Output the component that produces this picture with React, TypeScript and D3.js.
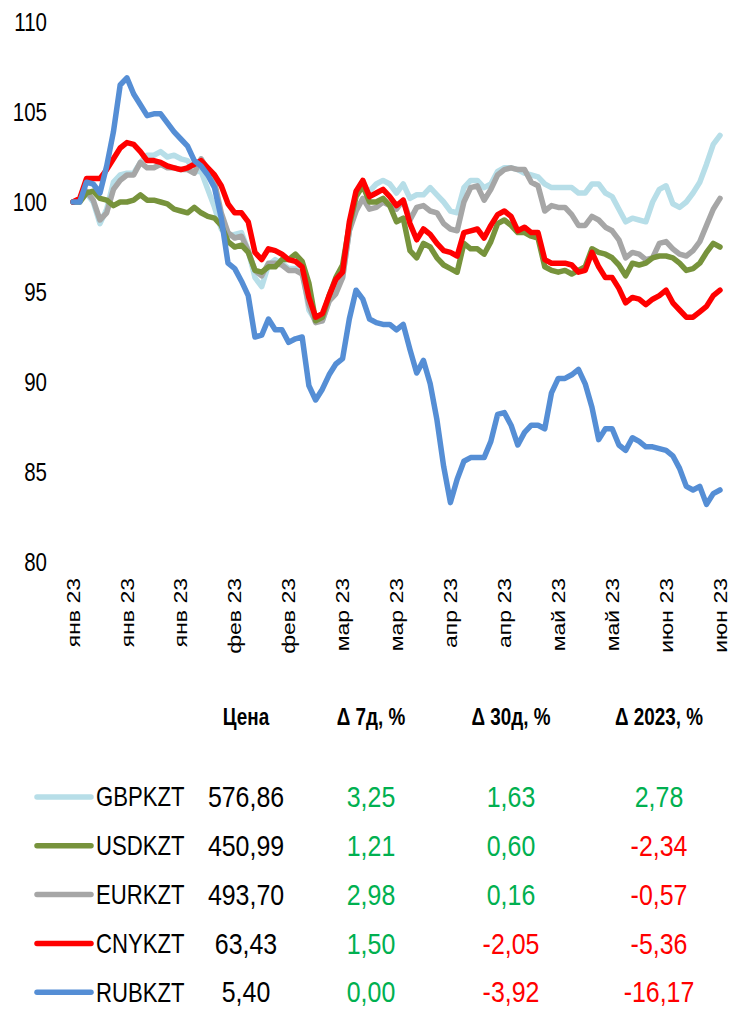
import React from 'react';
import * as d3 from 'd3';

// x-axis labels (every 8th point)
const tickLabels = ['янв 23', 'янв 23', 'янв 23', 'фев 23', 'фев 23', 'мар 23', 'мар 23', 'апр 23', 'апр 23', 'май 23', 'май 23', 'июн 23', 'июн 23'];
const yTicks = [80, 85, 90, 95, 100, 105, 110];

const gbp = [
  100, 100.1, 100.5, 100.0, 98.8, 99.6, 101.1, 101.5,
  101.6, 101.6, 102.2, 102.6, 102.6, 102.8, 102.5, 102.6,
  102.4, 102.3, 101.7, 101.7, 100.7, 99.7, 98.5, 98.1,
  98.2, 98.3, 97.3, 95.8, 95.3, 96.5, 96.8, 96.6,
  96.3, 96.3, 96.3, 94.0, 93.4, 93.4, 94.5, 95.3,
  95.8, 98.4, 100.4, 100.9, 100.6, 101.0, 101.2, 101.0,
  100.5, 101.0, 100.2, 100.4, 100.4, 100.8, 100.4, 100.0,
  99.5, 99.4, 100.8, 101.2, 101.2, 100.8, 101.0, 101.7,
  101.9, 101.9, 101.8, 101.6, 101.5, 101.4, 101.0, 100.8,
  100.8, 100.8, 100.8, 100.5, 100.5, 101.0, 101.0, 100.5,
  100.3, 99.6, 98.9, 99.1, 99.0, 98.9, 100.0, 100.7,
  100.9, 99.9, 99.7, 100.0, 100.5, 101.1, 102.1, 103.2,
  103.7,
];
const eur = [
  100, 100.1, 100.6, 100.1, 99.0, 99.4, 100.7, 101.2,
  101.5, 101.5, 102.2, 101.9, 101.9, 102.1, 101.9, 101.9,
  101.8, 101.8, 101.6, 102.4, 101.8, 101.1, 99.4, 98.3,
  98.0, 98.1, 97.3, 96.2, 95.9, 96.6, 96.6, 96.5,
  96.2, 96.2, 96.0, 94.3, 93.3, 93.4, 94.5, 94.9,
  95.8, 98.4, 99.5, 100.2, 99.6, 99.7, 100.0, 99.8,
  99.6, 100.1, 99.0, 99.7, 99.8, 99.5, 99.4, 98.8,
  98.5, 98.4, 100.0, 100.8, 100.9, 100.1, 100.7, 101.5,
  101.8, 101.9, 101.8, 101.8, 101.1, 100.9, 99.5, 99.8,
  99.7, 99.7, 99.3, 98.7, 98.7, 99.2, 99.0, 98.6,
  98.4, 97.9, 96.9, 97.2, 97.1, 96.8, 96.9, 97.7,
  97.8, 97.4, 97.1, 97.0, 97.3, 97.8, 98.7, 99.6,
  100.2,
];
const usd = [
  100, 100, 100.5, 100.6, 100.2, 100.1, 99.8, 100,
  100, 100.1, 100.4, 100.1, 100.1, 100, 99.9, 99.6,
  99.5, 99.4, 99.7, 99.4, 99.2, 99.1, 98.7, 97.8,
  97.5, 97.6, 97.2, 96.2, 96.1, 96.4, 96.4, 96.8,
  96.8, 97.1, 96.7, 95.5, 93.4, 93.6, 94.8, 95.8,
  96.5, 98.7, 100.3, 100.9, 100, 100, 100.2, 99.8,
  98.9, 99.1, 97.3, 96.9, 97.7, 97.5, 96.9, 96.5,
  96.3, 96.1, 97.7, 97.4, 97.4, 97.1, 97.8, 98.8,
  99.0, 98.7, 98.3, 98.3, 98.1, 98.0, 96.4, 96.2,
  96.1, 96.2, 96.0, 96.2, 96.4, 97.4, 97.2, 97.1,
  96.9, 96.5, 95.9, 96.6, 96.5, 96.6, 96.9, 97.0,
  97.0, 96.9, 96.6, 96.2, 96.3, 96.6, 97.2, 97.7,
  97.5,
];
const cny = [
  100, 100.2, 101.3, 101.3, 101.3, 101.8, 102.4, 103.0,
  103.3, 103.2, 102.8, 102.3, 102.3, 102.2, 102.0, 101.9,
  101.8, 101.9, 102.1, 102.3, 101.9, 101.5, 100.9, 99.9,
  99.4, 99.4, 98.9, 97.2, 96.8, 97.4, 97.3, 97.1,
  96.8, 96.7, 96.4, 94.7, 93.6, 93.8, 94.8, 95.7,
  96.1, 98.9, 100.6, 101.2, 100.3, 100.5, 100.7, 100.3,
  99.8, 100.1, 98.8, 97.9, 98.5, 98.2, 97.7, 97.3,
  97.2, 97.0, 98.3, 98.4, 98.5, 98.0, 98.7, 99.3,
  99.5, 99.2, 98.4, 98.6, 98.3, 98.3, 96.8, 96.6,
  96.6, 96.6, 96.5, 96.1, 96.2, 97.2, 96.4, 95.8,
  95.8, 95.2, 94.4, 94.7, 94.6, 94.3, 94.6, 94.8,
  95.1, 94.4, 94.0, 93.6, 93.6, 93.9, 94.2, 94.8,
  95.1,
];
const rub = [
  100, 100, 101.1, 101.0, 100.5, 102.0, 103.9, 106.5,
  106.9, 106.0, 105.4, 104.8, 104.9, 104.9, 104.4, 103.9,
  103.5, 103.1, 102.3, 102.0, 101.5, 100.8, 99.1, 96.6,
  96.3, 95.6, 94.8, 92.5, 92.6, 93.5, 92.9, 92.9,
  92.2, 92.4, 92.5, 89.8, 89.0, 89.6, 90.4, 91.0,
  91.3, 93.5, 95.1, 94.6, 93.5, 93.3, 93.2, 93.2,
  92.9, 93.2, 91.8, 90.5, 91.2, 89.9, 87.9, 85.3,
  83.3, 84.6, 85.6, 85.8, 85.8, 85.8, 86.7, 88.2,
  88.3, 87.6, 86.5, 87.2, 87.6, 87.6, 87.4, 89.4,
  90.2, 90.2, 90.4, 90.7, 89.9, 88.6, 86.8, 87.4,
  87.4, 86.5, 86.2, 86.9, 86.7, 86.4, 86.4, 86.3,
  86.2, 85.9, 85.2, 84.2, 84.0, 84.2, 83.2, 83.8,
  84.0,
];

// table
const names = ['GBPKZT', 'USDKZT', 'EURKZT', 'CNYKZT', 'RUBKZT'];
const prices = ['576,86', '450,99', '493,70', '63,43', '5,40'];
const chg7 = [3.25, 1.21, 2.98, 1.5, 0.0];
const chg30 = [1.63, 0.6, 0.16, -2.05, -3.92];
const chgYtd = [2.78, -2.34, -0.57, -5.36, -16.17];
const headers = ['Цена', 'Δ 7д, %', 'Δ 30д, %', 'Δ 2023, %'];

const colors: Record<string, string> = {
  GBPKZT: '#B7DEE8',
  USDKZT: '#77933C',
  EURKZT: '#A6A6A6',
  CNYKZT: '#FF0000',
  RUBKZT: '#558ED5',
};

const FONT = '"Liberation Sans", Arial, sans-serif';
const SX = 0.82; // narrow text

const fmt = (v: number) => v.toFixed(2).replace('.', ',');

export default function App() {
  const n = rub.length;
  const x = d3.scaleLinear().domain([0, n - 1]).range([73, 720]);
  const y = d3.scaleLinear().domain([80, 110]).range([562, 22]);
  const line = d3.line<number>().x((_, i) => x(i)).y(d => y(d));

  // drawing order: bottom -> top
  const series: [string, number[]][] = [
    ['GBPKZT', gbp],
    ['EURKZT', eur],
    ['USDKZT', usd],
    ['CNYKZT', cny],
    ['RUBKZT', rub],
  ];

  const step = (n - 1) / (tickLabels.length - 1);
  const colX = [246, 371, 511, 659];
  const rowY = d3.range(names.length).map(i => 797 + i * 48.8);

  const txt = (key: string, tx: number, ty: number, s: string, opts: any = {}) => (
    <text
      key={key}
      transform={`translate(${tx},${ty}) scale(${opts.sx ?? SX},1)`}
      fontFamily={FONT}
      fontSize={opts.size ?? 28}
      fontWeight={opts.bold ? 'bold' : 'normal'}
      textAnchor={opts.anchor ?? 'middle'}
      dy="0.35em"
      fill={opts.fill ?? '#000'}
    >
      {s}
    </text>
  );

  const clr = (v: number) => (v < 0 ? '#FF0000' : '#00B050');

  return (
    <svg width={731} height={1011} style={{ position: 'absolute', left: 0, top: 0, background: '#fff' }}>
      {/* y axis labels */}
      {yTicks.map(t => txt(`y${t}`, 47, y(t), String(t), { anchor: 'end', size: 25 }))}

      {/* x axis labels */}
      {tickLabels.map((l, i) => (
        <text
          key={`x${i}`}
          transform={`translate(${x(i * step)},578) scale(${SX},1) rotate(-90)`}
          fontFamily={FONT}
          fontSize={23}
          textAnchor="end"
          dy="0.35em"
        >
          {l}
        </text>
      ))}

      {/* lines */}
      {series.map(([name, vals]) => (
        <path
          key={name}
          d={line(vals) ?? ''}
          fill="none"
          stroke={colors[name]}
          strokeWidth={5.5}
          strokeLinejoin="round"
          strokeLinecap="round"
        />
      ))}

      {/* table header */}
      {headers.map((h, i) => txt(`h${i}`, colX[i], 717, h, { bold: true, size: 23 }))}

      {/* table rows */}
      {names.map((nm, i) => (
        <g key={nm}>
          <line x1={37} x2={91} y1={rowY[i]} y2={rowY[i]} stroke={colors[nm]} strokeWidth={5.5} strokeLinecap="round" />
          {txt(`n${i}`, 96, rowY[i], nm, { anchor: 'start', size: 27 })}
          {txt(`p${i}`, colX[0], rowY[i], prices[i], { size: 29, sx: 0.86 })}
          {txt(`a${i}`, colX[1], rowY[i], fmt(chg7[i]), { size: 29, sx: 0.86, fill: clr(chg7[i]) })}
          {txt(`b${i}`, colX[2], rowY[i], fmt(chg30[i]), { size: 29, sx: 0.86, fill: clr(chg30[i]) })}
          {txt(`c${i}`, colX[3], rowY[i], fmt(chgYtd[i]), { size: 29, sx: 0.86, fill: clr(chgYtd[i]) })}
        </g>
      ))}
    </svg>
  );
}
